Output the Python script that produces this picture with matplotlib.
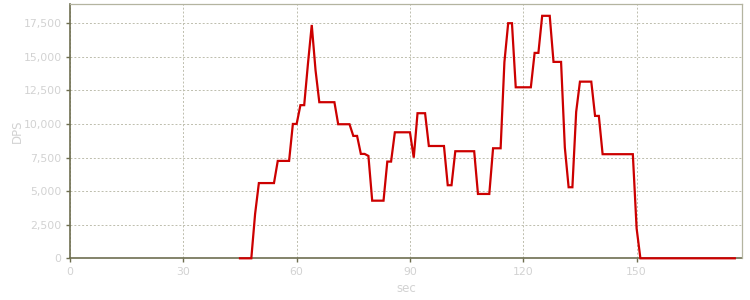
import matplotlib
matplotlib.use("Agg")
import matplotlib.pyplot as plt
from matplotlib.ticker import FuncFormatter

seconds = list(range(45, 177))
dps = [
    0, 0, 0, 0, 3300,                      # 45-49
    5600, 5600, 5600, 5600, 5600,          # 50-54
    7250, 7250, 7250, 7250, 10000,         # 55-59
    10000, 11400, 11400, 14500, 17370,     # 60-64
    14000, 11620, 11620, 11620, 11620,     # 65-69
    11620, 9980, 9980, 9980, 9980,         # 70-74
    9110, 9110, 7770, 7770, 7620,          # 75-79
    4290, 4290, 4290, 4290, 7200,          # 80-84
    7200, 9380, 9380, 9380, 9380,          # 85-89
    9380, 7490, 10800, 10800, 10800,       # 90-94
    8360, 8360, 8360, 8360, 8360,          # 95-99
    5440, 5440, 7970, 7970, 7970,          # 100-104
    7970, 7970, 7970, 4790, 4790,          # 105-109
    4790, 4790, 8190, 8190, 8190,          # 110-114
    14600, 17500, 17500, 12730, 12730,     # 115-119
    12730, 12730, 12730, 15290, 15290,     # 120-124
    18050, 18050, 18050, 14620, 14620,     # 125-129
    14620, 8240, 5290, 5290, 10900,        # 130-134
    13150, 13150, 13150, 13150, 10600,     # 135-139
    10600, 7750, 7750, 7750, 7750,         # 140-144
    7750, 7750, 7750, 7750, 7750,          # 145-149
    2230,                                  # 150
] + [0] * 26                               # 151-176

x_ticks = [0, 30, 60, 90, 120, 150]
y_ticks = [0, 2500, 5000, 7500, 10000, 12500, 15000, 17500]

frame_dark = "#6e6e50"
frame_light = "#b4b4a0"
text_col = "#d2d2d2"
grid_col = "#bdbdad"

fig = plt.figure(figsize=(7.5, 3.0), dpi=100)
ax = fig.add_axes([70/750, 1 - 258.3/300, (742-70)/750, (258.3-4)/300])

ax.plot(seconds, dps, color="#cc0000", lw=1.6, solid_joinstyle="miter",
        zorder=3, clip_on=False)

ax.set_xlim(0, 177.9)
ax.set_ylim(0, 18930)
ax.set_xticks(x_ticks)
ax.set_yticks(y_ticks)
ax.yaxis.set_major_formatter(FuncFormatter(lambda v, p: f"{int(v):,}"))

ax.grid(True, color=grid_col, linestyle=(0, (2, 2)), linewidth=0.7)
ax.set_axisbelow(True)

for side in ("left", "bottom"):
    ax.spines[side].set_color(frame_dark)
    ax.spines[side].set_linewidth(1.2)
    ax.spines[side].set_zorder(2)
for side in ("top", "right"):
    ax.spines[side].set_color(frame_light)
    ax.spines[side].set_linewidth(0.9)

ax.tick_params(axis="both", colors=frame_dark, labelcolor=text_col,
               labelsize=7.8, length=3, width=1, pad=3)

ax.set_xlabel("sec", color=text_col, fontsize=8.5, labelpad=4)
ax.set_ylabel("DPS", color=text_col, fontsize=8.5)
ax.yaxis.set_label_coords(-46/672, 0.5)

fig.savefig("out.png", dpi=100)
